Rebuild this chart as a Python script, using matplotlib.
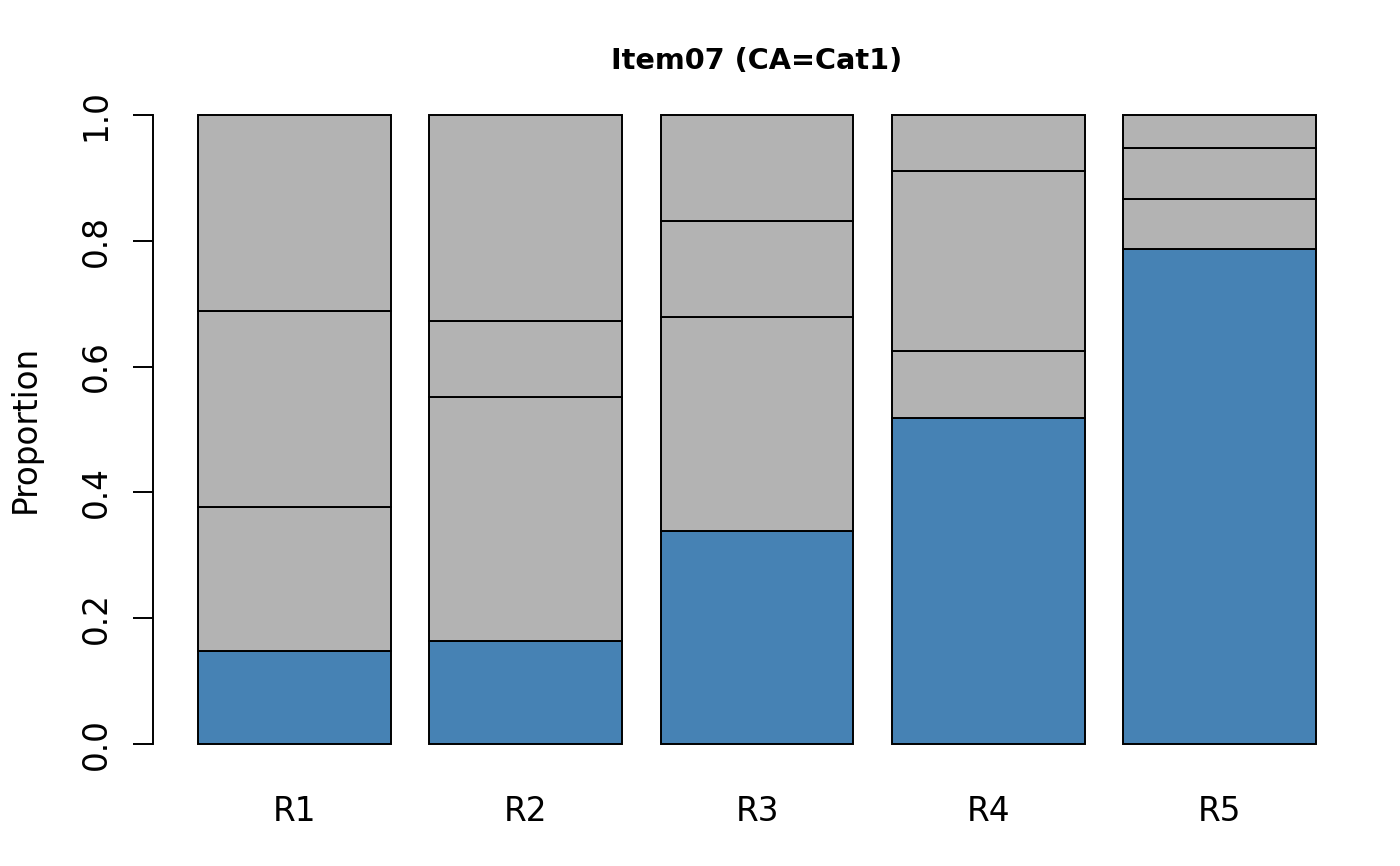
import matplotlib
matplotlib.use("Agg")
import matplotlib.pyplot as plt
import numpy as np

# datos
grupos = ["R1", "R2", "R3", "R4", "R5"]
cat1 = [0.148, 0.163, 0.339, 0.518, 0.787]   # categoria correcta (azul)
cat2 = [0.229, 0.388, 0.340, 0.107, 0.079]
cat3 = [0.311, 0.122, 0.152, 0.286, 0.082]
cat4 = [0.312, 0.327, 0.169, 0.089, 0.052]

azul = "#4682B4"
gris = "#B3B3B3"

fig = plt.figure(figsize=(14, 8.66), dpi=100)
ax = fig.add_axes([0.1095, 0.112, 0.8625, 0.7843])

x = 0.2 + np.arange(len(grupos)) * 1.2 + 0.5
fondo = np.zeros(len(grupos))
for serie, color in [(cat1, azul), (cat2, gris), (cat3, gris), (cat4, gris)]:
    ax.bar(x, serie, width=1.0, bottom=fondo, color=color,
           edgecolor="black", linewidth=1.4)
    fondo = fondo + np.array(serie)

ax.set_xlim(-0.032, 6.232)
ax.set_ylim(-0.04, 1.04)

for lado in ["top", "right", "bottom"]:
    ax.spines[lado].set_visible(False)
ax.spines["left"].set_bounds(0, 1)
ax.spines["left"].set_linewidth(1.4)

ax.set_yticks([0, 0.2, 0.4, 0.6, 0.8, 1.0])
ax.set_yticklabels(["0.0", "0.2", "0.4", "0.6", "0.8", "1.0"],
                   rotation=90, va="center", fontsize=23.5)
ax.tick_params(axis="y", length=14.4, width=1.4, pad=15)
ax.set_xticks(x)
ax.set_xticklabels(grupos, fontsize=23.5)
ax.tick_params(axis="x", length=0, pad=18.5)

ax.set_ylabel("Proportion", fontsize=23.5, labelpad=27)
ax.set_title("Item07 (CA=Cat1)", fontsize=20.7, fontweight="bold", pad=15)

fig.savefig("out.png", dpi=100)
